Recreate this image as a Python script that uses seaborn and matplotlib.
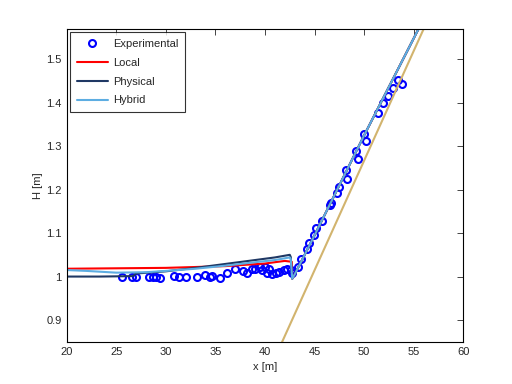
import numpy as np
import pandas as pd
import matplotlib
matplotlib.use('Agg')
import matplotlib.pyplot as plt
import seaborn as sns

# Experimental data
exp_x = [25.6, 26.6, 27.0, 28.3, 28.7, 29.0, 29.4, 30.8, 31.3, 32.0, 33.1,
         34.0, 34.5, 34.7, 35.5, 36.2, 37.0, 37.8, 38.2, 38.7, 39.0, 39.5,
         39.7, 40.0, 40.2, 40.4, 40.7, 41.1, 41.4, 41.9, 42.2, 42.6, 42.7,
         43.3, 43.6, 44.2, 44.4, 44.9, 45.1, 45.8, 46.6, 46.7, 47.3, 47.5,
         48.2, 48.3, 49.2, 49.4, 50.0, 50.2, 51.4, 51.9, 52.4, 52.9, 53.4, 53.8]
exp_h = [1.000, 0.998, 1.000, 1.000, 0.998, 1.000, 0.997, 1.001, 1.000, 0.998, 1.000,
         1.004, 1.000, 1.002, 0.996, 1.008, 1.017, 1.012, 1.009, 1.017, 1.018, 1.022,
         1.015, 1.023, 1.008, 1.017, 1.005, 1.008, 1.010, 1.014, 1.017, 1.016, 1.008,
         1.023, 1.040, 1.063, 1.078, 1.096, 1.111, 1.128, 1.165, 1.169, 1.192, 1.207,
         1.246, 1.224, 1.288, 1.271, 1.327, 1.313, 1.376, 1.399, 1.416, 1.434, 1.453, 1.443]

# Model results
local_x = [20, 25, 30, 33, 36, 40, 42, 42.7, 42.75, 43, 45, 50, 55.6]
local_h = [1.018, 1.019, 1.020, 1.022, 1.024, 1.030, 1.036, 1.034, 0.995, 1.005, 1.095, 1.325, 1.575]

phys_x = [20, 23.3, 26.7, 27, 30, 33, 36, 39, 41, 42.5, 42.6, 42.75, 43, 45, 50, 55.6]
phys_h = [1.000, 1.000, 1.001, 1.007, 1.012, 1.020, 1.029, 1.038, 1.044, 1.050, 1.045, 0.995, 1.005, 1.095, 1.325, 1.575]

hyb_x = [20, 22, 25, 28, 30, 33, 36, 39, 41, 42.5, 42.6, 42.75, 43, 45, 50, 55.6]
hyb_h = [1.015, 1.013, 1.009, 1.010, 1.013, 1.018, 1.025, 1.033, 1.038, 1.044, 1.040, 0.995, 1.005, 1.095, 1.325, 1.575]

# Slope line
bed_x = [41.5, 56.5]
bed_h = [0.838, 1.595]

sns.set_style('white')
plt.rcParams['font.family'] = ['Liberation Sans', 'DejaVu Sans']
plt.rcParams['font.size'] = 8

fig = plt.figure(figsize=(5.12, 3.84), dpi=100)
ax = fig.add_axes([0.13, 0.11, 0.775, 0.815])

ax.plot(exp_x, exp_h, 'o', mfc='none', mec='#0000FF', mew=1.5, ms=5, label='Experimental')

for xs, hs, col, lab in [(local_x, local_h, '#FF0000', 'Local'),
                         (phys_x, phys_h, '#1F3864', 'Physical'),
                         (hyb_x, hyb_h, '#5DADE2', 'Hybrid')]:
    df = pd.DataFrame({'x': xs, 'H': hs})
    sns.lineplot(data=df, x='x', y='H', ax=ax, color=col, lw=1.5,
                 sort=False, estimator=None, label=lab)

ax.plot(bed_x, bed_h, color='#D2B46E', lw=1.5)

ax.set_xlim(20, 60)
ax.set_ylim(0.85, 1.57)
ax.set_xticks(range(20, 61, 5))
ax.set_yticks([0.9, 1.0, 1.1, 1.2, 1.3, 1.4, 1.5])
ax.set_yticklabels(['0.9', '1', '1.1', '1.2', '1.3', '1.4', '1.5'])
ax.set_xlabel('x [m]')
ax.set_ylabel('H [m]', labelpad=2)
ax.tick_params(direction='in', top=True, right=True, length=4, width=0.6, labelsize=8)
for s in ax.spines.values():
    s.set_color('black')
    s.set_linewidth(0.8)

leg = ax.legend(loc='upper left', fontsize=8, frameon=True, fancybox=False,
                edgecolor='black', borderaxespad=0.3, handlelength=2.8,
                labelspacing=0.8, handletextpad=0.45, borderpad=0.6)
leg.get_frame().set_linewidth(0.8)

fig.savefig('out.png', dpi=100)
